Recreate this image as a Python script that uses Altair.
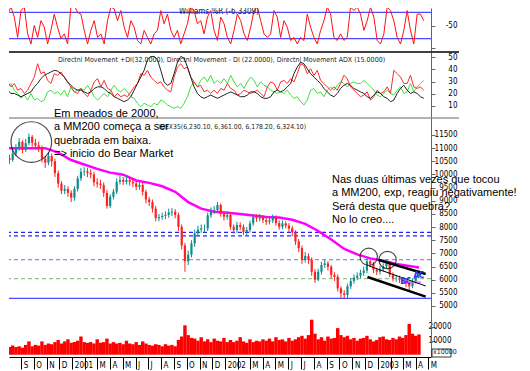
import altair as alt
import pandas as pd
import numpy as np

START = "2000-07-27"
END = "2003-04-09"

close = [10620, 10550, 10800, 11000, 11240, 10930, 11190, 11430, 11200, 11100,
         11000, 10600, 10450, 10700, 10500, 10050, 9650, 9380, 9450, 9300,
         9120, 9450, 9850, 10100, 10120, 10060, 10000, 9700, 9650, 9600,
         9300, 8800, 9150, 9350, 9720, 9790, 9720, 9790, 9720, 9660,
         9530, 9600, 9340, 9050, 8950, 8700, 8340, 8380, 8420, 8460,
         8550, 8580, 8460, 8010, 7300, 6700, 6950, 7380, 7760, 7900,
         7950, 7950, 8450, 8600, 8650, 8840, 8520, 8390, 8460, 8010,
         7890, 8080, 8010, 7820, 7890, 8140, 8390, 8330, 8390, 8270,
         8200, 8250, 8390, 8150, 8010, 8140, 8050, 7950, 7800, 7450,
         7200, 6750, 6900, 6750, 6300, 6000, 6300, 6560, 6620, 6490,
         6180, 6110, 5670, 5480, 5420, 5750, 5950, 6080, 6150, 6260,
         6350, 6700, 6600, 6380, 6300, 6400, 6500, 6620, 6200, 6050,
         6050, 6000, 5950, 5850, 5750, 5950, 6150, 6324]
first_open = 10700

high = [10850, 10750, 10950, 11150, 11380, 11300, 11350, 11560, 11500, 11350,
        11250, 11100, 10700, 10850, 10800, 10600, 10150, 9750, 9600, 9550,
        9400, 9550, 9950, 10250, 10280, 10250, 10200, 10100, 9850, 9800,
        9700, 9400, 9250, 9450, 9850, 9950, 9900, 9950, 9900, 9850,
        9750, 9720, 9700, 9420, 9150, 9050, 8800, 8500, 8550, 8600,
        8700, 8720, 8680, 8550, 8100, 7400, 7100, 7500, 7900, 8050,
        8100, 8100, 8550, 8750, 8800, 8950, 8900, 8600, 8600, 8550,
        8100, 8200, 8180, 8100, 8000, 8250, 8500, 8480, 8500, 8450,
        8380, 8380, 8480, 8450, 8250, 8250, 8220, 8150, 8050, 7880,
        7550, 7300, 7050, 7000, 6850, 6400, 6420, 6680, 6750, 6700,
        6560, 6280, 6200, 5750, 5600, 5850, 6050, 6200, 6280, 6380,
        6500, 6850, 6780, 6680, 6450, 6520, 6620, 6750, 6700, 6280,
        6180, 6150, 6080, 6020, 5920, 6050, 6250, 6361]

low = [10450, 10400, 10480, 10700, 10900, 10800, 10850, 11100, 11050, 10950,
       10850, 10450, 10250, 10350, 10300, 9900, 9500, 9250, 9250, 9150,
       8950, 9000, 9350, 9750, 9950, 9900, 9850, 9550, 9500, 9450,
       9150, 8700, 8720, 9050, 9250, 9620, 9600, 9620, 9580, 9520,
       9400, 9420, 9200, 8900, 8800, 8550, 8220, 8220, 8280, 8300,
       8350, 8420, 8330, 7850, 7150, 6300, 6550, 6850, 7250, 7650,
       7780, 7800, 7850, 8350, 8500, 8550, 8400, 8250, 8280, 7900,
       7750, 7780, 7880, 7700, 7700, 7800, 8050, 8200, 8220, 8150,
       8080, 8100, 8150, 8050, 7900, 7920, 7950, 7820, 7650, 7320,
       7050, 6600, 6650, 6600, 6150, 5880, 5950, 6200, 6450, 6350,
       6050, 5950, 5550, 5300, 5290, 5300, 5650, 5850, 5980, 6050,
       6150, 6250, 6480, 6250, 6180, 6200, 6300, 6420, 6100, 5930,
       5920, 5880, 5830, 5720, 5550, 5680, 5850, 6050]

wr = [-92, -73, -24, -8, -31, -77, -16, -8, -69, -92,
      -50, -77, -39, -54, -92, -61, -24, -54, -80, -69,
      -92, -8, -4, -20, -24, -61, -92, -61, -39, -77,
      -69, -92, -39, -8, -12, -39, -16, -54, -77, -39,
      -54, -84, -92, -61, -77, -92, -69, -61, -16, -46,
      -24, -61, -77, -61, -92, -69, -46, -8, -16, -46,
      -39, -69, -31, -16, -61, -84, -31, -46, -77, -92,
      -61, -24, -39, -69, -84, -54, -16, -8, -39, -69,
      -77, -69, -16, -31, -77, -39, -54, -84, -77, -92,
      -77, -84, -24, -54, -77, -92, -61, -39, -8, -24,
      -77, -84, -69, -84, -77, -8, -16, -8, -24, -61,
      -39, -8, -31, -84, -92, -69, -8, -16, -39, -77,
      -92, -61, -16, -61, -92, -24, -24, -39]

pdi = [27, 28.5, 29.8, 25.7, 28.5, 23, 24.4, 20.3, 23, 28.5,
       33.8, 44.7, 36.6, 37.9, 31, 28.5, 36.6, 35.2, 37.9, 33.8,
       29.8, 25.7, 21.6, 20.3, 24.4, 20.3, 17.6, 23, 29.8, 32.5,
       25.7, 31, 24.4, 23, 17.6, 20.3, 17.6, 19, 17.6, 21.6,
       25.7, 28.5, 36.6, 35.2, 39.3, 33.8, 31, 28.5, 29.8, 25.7,
       23, 21.6, 33.8, 42, 44.7, 40.6, 42, 33.8, 29.8, 25.7,
       27, 21.6, 23, 20.3, 23, 20.3, 24.4, 23, 28.5, 24.4,
       23, 19, 20.3, 23, 21.6, 20.3, 21.6, 23, 20.3, 17.6,
       25.7, 29.8, 28.5, 23, 29.8, 31, 28.5, 32.5, 29.8, 36.6,
       44.7, 43.3, 36.6, 40.6, 35.2, 39.3, 31, 28.5, 25.7, 23,
       25.7, 23, 28.5, 35.2, 32.5, 25.7, 23, 20.3, 17.6, 19,
       21.6, 14.9, 17.6, 23, 20.3, 21.6, 25.7, 20.3, 39.3, 36.6,
       33.8, 28.5, 28.5, 35.2, 25.7, 24.4, 25.7, 23]

mdi = [27, 29.8, 25.7, 28.5, 23, 20.3, 16.3, 19, 14.9, 20.3,
       14.9, 16.3, 13.5, 14.9, 21.6, 23, 20.3, 21.6, 19, 23,
       17.6, 25.7, 21.6, 23, 24.4, 23, 27, 23, 17.6, 14.9,
       17.6, 20.3, 17.6, 23, 27, 23, 21.6, 24.4, 21.6, 17.6,
       16.3, 12.2, 9.5, 12.2, 10.8, 9.5, 12.2, 10.8, 14.9, 13.5,
       10.8, 9.5, 8.1, 9.5, 8.1, 12.2, 17.6, 25.7, 29.8, 25.7,
       31, 33.8, 29.8, 35.2, 28.5, 31, 28.5, 32.5, 28.5, 35.2,
       29.8, 25.7, 28.5, 24.4, 29.8, 33.8, 31, 25.7, 29.8, 27,
       25.7, 23, 21.6, 20.3, 21.6, 20.3, 23, 19, 16.3, 17.6,
       13.5, 10.8, 14.9, 23, 24.4, 20.3, 21.6, 17.6, 23, 25.7,
       23, 27, 29.8, 28.5, 25.7, 28.5, 29.8, 28.5, 28.5, 31,
       28.5, 25.7, 23, 19, 17.6, 20.3, 23, 20.3, 19, 23,
       25.7, 20.3, 21.6, 28.5, 21.6, 25.7, 28.5, 31]

adx = [20.3, 21.6, 23, 20.3, 20.3, 19, 17.6, 19, 20.3, 21.6,
       25.7, 28.5, 32.5, 35.2, 36.6, 37.9, 39.3, 38.7, 36.6, 33.8,
       29.8, 27, 24.4, 23, 23, 21.6, 20.3, 21.6, 24.4, 25.7,
       25.7, 24.4, 21.6, 20.3, 17.6, 16.3, 14.9, 13.5, 14.9, 17.6,
       23, 28.5, 33.8, 39.3, 48, 50.7, 50.7, 48, 39.3, 29.8,
       27, 28.5, 36.6, 46, 50.7, 49.3, 42, 33.8, 25.7, 20.3,
       17.6, 16.3, 17.6, 19, 17.6, 16.3, 17.6, 19, 20.3, 21.6,
       20.3, 19, 17.6, 17.6, 19, 21.6, 21.6, 20.3, 17.6, 16.3,
       16.3, 17.6, 21.6, 23, 21.6, 23, 25.7, 28.5, 36.6, 42,
       46, 44.7, 40.6, 36.6, 33.8, 31, 28.5, 24.4, 21.6, 19,
       17.6, 20.3, 24.4, 27, 28.5, 27, 24.4, 23, 21.6, 20.3,
       17.6, 16.3, 19, 21.6, 20.3, 17.6, 16.3, 13.5, 14.9, 20.3,
       24.4, 27, 23, 20.3, 21.6, 20.3, 17.6, 16.3]

vol = [6000, 5500, 6500, 5500, 6000, 5000, 7000, 9500, 6000, 7000,
       6500, 9500, 7000, 8000, 7500, 9000, 10500, 8000, 9500, 11000,
       8500, 9000, 10000, 13000, 9000, 8500, 9000, 8000, 11000, 8500,
       9000, 11500, 8000, 9000, 8000, 8500, 7500, 10000, 8000, 7500,
       9000, 7000, 9500, 8000, 7000, 6500, 7500, 7000, 6000, 7500,
       6500, 7000, 6000, 10500, 13000, 21000, 14000, 12000, 11500, 10000,
       12500, 9500, 11000, 9000, 11500, 10000, 9500, 12000, 9000, 10500,
       9000, 10000, 12500, 9500, 8500, 11000, 9000, 10000, 9500, 11000,
       10000, 11500, 9500, 12500, 10500, 11000, 9500, 12000, 10000, 11000,
       12500, 13500, 11500, 14000, 25000, 15000, 11000, 12500, 10000, 13000,
       11500, 12000, 19000, 14000, 12500, 13500, 11000, 12000, 10000, 11500,
       12000, 13500, 11000, 9500, 10500, 12500, 13000, 11000, 10500, 12000,
       11000, 13000, 12000, 14000, 22000, 15000, 13500, 14500]

mm200 = [11000, 11000, 11000, 11000, 10830, 10550, 10380, 10210, 10070, 9990,
         9770, 9680, 9550, 9340, 8950, 8700, 8580, 8540, 8500, 8440,
         8380, 8360, 8280, 8120, 7850, 7530, 7170, 6960, 6810, 6720,
         6600, 6520, 6460]

wr_levels = [-20, -80]
price_levels = [7802, 7662, 6760, 6038, 5293]
price_level_color = ["#2424ff", "#2424ff", "#8a8aff", "#8cc88c", "#4a4aff"]
price_level_dash = ["dash", "dash", "dash", "dash", "solid"]

chan_start = ["2003-01-03", "2002-12-07", "2002-12-11"]
chan_start_p = [6750, 6102, 6520]
chan_end = ["2003-04-25", "2003-04-25", "2003-04-25"]
chan_end_p = [6216, 5354, 5760]
chan_kind = ["thick", "thick", "thin"]

pink_dates = ["2003-03-10", "2003-04-14"]
pink_prices = [5920, 5900]

circle_dates = ["2000-09-25", "2002-12-10", "2003-01-24"]
circle_prices = [11232, 6873, 6748]
circle_sizes = [1650, 300, 300]

mark_dates = ["2003-03-08", "2003-04-09"]
mark_prices = [5900, 6150]
mark_text = ["BC", "AC"]

T_W = "Williams %R (-6.3309)"
T_DMI = ("Directnl Movement +DI(32.0000), Directnl Movement - DI (22.0000), "
         "Directnl Movement ADX (15.0000)")
T_PX = "IBEX35(6,230.10, 6,361.00, 6,178.20, 6,324.10)"
NOTE1 = ["Em meados de 2000,", "a MM200 começa a ser", "quebrada em baixa.",
         "=> inicio do Bear Market"]
NOTE2 = ["Nas duas últimas vezes que tocou", "a MM200, exp, reagiu negativamente!",
         "Será desta que quebra?", "No lo creo...."]

NARROW = "Liberation Sans Narrow, Arial Narrow, DejaVu Sans Condensed, sans-serif"
SANS = "Liberation Sans, Arial, sans-serif"
UP, DOWN = "#128c8c", "#ff2020"

# ---------------------------------------------------------------- data frames
dates = pd.date_range(START, END, periods=len(close))
df = pd.DataFrame({"date": dates, "close": close, "high": high, "low": low,
                   "wr": wr, "pdi": pdi, "mdi": mdi, "adx": adx, "vol": vol})
df["open"] = [first_open] + close[:-1]
df["col"] = np.where(df["close"] >= df["open"], UP, DOWN)

mm_idx = list(range(0, len(close), 4)) + [len(close) - 1]
mm_df = pd.DataFrame({"date": dates[mm_idx], "mm": mm200})
lvl_df = pd.DataFrame({"v": price_levels, "col": price_level_color,
                       "dash": price_level_dash})
wr_df = pd.DataFrame({"v": wr_levels})
chan_df = pd.DataFrame({"date": pd.to_datetime(chan_start), "p1": chan_start_p,
                        "d2": pd.to_datetime(chan_end), "p2": chan_end_p,
                        "kind": chan_kind})
pink_df = pd.DataFrame({"date": pd.to_datetime(pink_dates), "p": pink_prices})
circ_df = pd.DataFrame({"date": pd.to_datetime(circle_dates),
                        "p": circle_prices, "s": circle_sizes})
mark_df = pd.DataFrame({"date": pd.to_datetime(mark_dates), "p": mark_prices,
                        "t": mark_text})
one = pd.DataFrame({"a": [0]})

W = 422
H1, H2, H3 = 44, 66, 239

xscale = alt.Scale(domain=[alt.DateTime(year=2000, month=8, date=14, hours=16),
                           alt.DateTime(year=2003, month=4, date=25, hours=19)],
                   nice=False)
AXC = "#666666"

def yax(values, pad=22, expr=None):
    kw = dict(orient="right", values=values, tickSize=4, labelPadding=pad,
              labelAlign="right", title=None, grid=False, format="d",
              domainColor=AXC, tickColor=AXC)
    if expr:
        kw["labelExpr"] = expr
    return alt.Axis(**kw)

def X(axis=None):
    return alt.X("date:T", scale=xscale, axis=axis, title=None)

def sep(h, color, w):
    return alt.Chart(one).mark_rule(color=color, strokeWidth=w).encode(
        x=alt.value(0), x2=alt.value(450), y=alt.value(h))

def label(text, x, y, size=8, font=NARROW, baseline="alphabetic", color="#222"):
    return alt.Chart(pd.DataFrame({"t": [text]})).mark_text(
        align="left", baseline=baseline, font=font, fontSize=size, color=color,
        lineBreak="\n", lineHeight=13.5).encode(
        text="t:N", x=alt.value(x), y=alt.value(y))

# ---------------------------------------------------------------- panel 1
ys1 = alt.Scale(domain=[-110.2, -10.2])
ax1 = yax([-100, -50], expr="datum.value == -50 ? '-50' : ''")
p1 = alt.layer(
    alt.Chart(wr_df).mark_rule(color="#4a4aff", strokeWidth=1.3).encode(
        y=alt.Y("v:Q", scale=ys1, axis=ax1)),
    alt.Chart(df).mark_line(color="#ff1010", strokeWidth=1, clip=True).encode(
        x=X(), y=alt.Y("wr:Q", scale=ys1, axis=ax1)),
    label(T_W, 170, 0, baseline="top"),
    sep(H1, "black", 1.5),
).properties(width=W, height=H1)

# ---------------------------------------------------------------- panel 2
ys2 = alt.Scale(domain=[0.14, 54.35])
ax2 = yax([10, 20, 30, 40, 50])
p2 = alt.layer(
    alt.Chart(df).mark_line(color="#3ee03e", strokeWidth=1, clip=True).encode(
        x=X(), y=alt.Y("mdi:Q", scale=ys2, axis=ax2)),
    alt.Chart(df).mark_line(color="#ff2a2a", strokeWidth=1, clip=True).encode(
        x=X(), y=alt.Y("pdi:Q", scale=ys2, axis=ax2)),
    alt.Chart(df).mark_line(color="#222222", strokeWidth=1, clip=True).encode(
        x=X(), y=alt.Y("adx:Q", scale=ys2, axis=ax2)),
    label(T_DMI, 49, 10, size=7),
    sep(H2, "#9a9a9a", 1.5),
).properties(width=W, height=H2)

# ---------------------------------------------------------------- panel 3
LBL = ("month(datum.value) == 0 ? timeFormat(datum.value, '%Y') : "
       "(month(datum.value) == 1 ? '' : "
       "substring(timeFormat(datum.value, '%b'), 0, 1))")
xax = alt.Axis(orient="bottom", tickCount={"interval": "month", "step": 1},
               labelExpr=LBL, labelAlign="left", labelBaseline="top",
               labelOffset=2, labelPadding=-8, tickSize=12, domainColor="black",
               tickColor="black", labelOverlap=False, labelFlush=False,
               title=None, grid=False, labelFontSize=8)
ys3 = alt.Scale(domain=[3061, 12146])
ax3 = yax(list(range(5000, 12000, 500)))
ysv = alt.Scale(domain=[-1643, 169071])
axv = yax([10000, 20000], pad=16)

vol_layer = alt.Chart(df).mark_bar(width=3.4, color="#ff0000", clip=True).encode(
    x=X(xax), y=alt.Y("vol:Q", scale=ysv, axis=axv), y2=alt.value(H3))

price_layer = alt.layer(
    alt.Chart(lvl_df).mark_rule(strokeWidth=1.2).encode(
        y=alt.Y("v:Q", scale=ys3, axis=ax3),
        color=alt.Color("col:N", scale=None),
        strokeDash=alt.StrokeDash("dash:N", legend=None, scale=alt.Scale(
            domain=["dash", "solid"], range=[[4, 3], [1, 0]]))),
    alt.Chart(mm_df).mark_line(color="#ff00ff", strokeWidth=2.5, clip=True).encode(
        x=X(xax), y=alt.Y("mm:Q", scale=ys3, axis=ax3)),
    alt.Chart(df).mark_rule(strokeWidth=1, clip=True).encode(
        x=X(xax), y=alt.Y("low:Q", scale=ys3, axis=ax3), y2="high:Q",
        color=alt.Color("col:N", scale=None)),
    alt.Chart(df).mark_bar(width=2.2, clip=True).encode(
        x=X(xax), y=alt.Y("open:Q", scale=ys3, axis=ax3), y2="close:Q",
        color=alt.Color("col:N", scale=None)),
    alt.Chart(pink_df).mark_line(color="#ff66ff", strokeWidth=1.5).encode(
        x=X(xax), y=alt.Y("p:Q", scale=ys3, axis=ax3)),
    alt.Chart(chan_df).mark_rule(color="black").encode(
        x=X(xax), x2="d2:T",
        y=alt.Y("p1:Q", scale=ys3, axis=ax3), y2="p2:Q",
        strokeWidth=alt.StrokeWidth("kind:N", legend=None, scale=alt.Scale(
            domain=["thick", "thin"], range=[2.5, 1]))),
    alt.Chart(circ_df).mark_point(shape="circle", filled=False, color="black",
                                  strokeWidth=1.2, clip=True).encode(
        x=X(xax), y=alt.Y("p:Q", scale=ys3, axis=ax3),
        size=alt.Size("s:Q", legend=None, scale=None)),
    alt.Chart(mark_df).mark_text(color="#3030ff", fontSize=8, font=NARROW,
                                 fontWeight="bold").encode(
        x=X(xax), y=alt.Y("p:Q", scale=ys3, axis=ax3), text="t:N"),
    label(T_PX, 150, 11, size=6.8),
    label("\n".join(NOTE1), 45, -1.5, size=11, font=SANS, color="black"),
    label("\n".join(NOTE2), 323, 64.5, size=11, font=SANS, color="black"),
    label("x10000", 424, 236, size=7),
    alt.Chart(one).mark_rect(fill=None, stroke="black", strokeWidth=0.8).encode(
        x=alt.value(423), x2=alt.value(442), y=alt.value(231), y2=alt.value(239)),
)

p3 = alt.layer(vol_layer, price_layer).resolve_scale(y="independent").properties(
    width=W, height=H3)

chart = alt.vconcat(p1, p2, p3, spacing=0, bounds="flush").configure_view(
    stroke=None).configure_axis(
    labelFont=NARROW, labelFontSize=8, labelColor="black").properties(padding=0)

chart.save("out.html", embed_options={"renderer": "svg", "actions": False})
